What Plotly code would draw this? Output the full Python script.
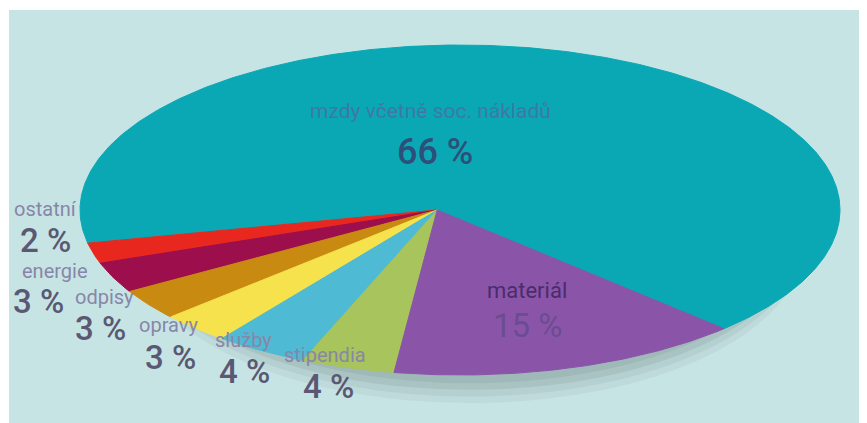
import numpy as np
import plotly.graph_objects as go

# ---- data ----
categories = ["mzdy včetně soc. nákladů", "ostatní", "energie", "odpisy",
              "opravy", "služby", "stipendia", "materiál"]
values = [66, 2, 3, 3, 3, 4, 4, 15]
pct_labels = ["66 %", "2 %", "3 %", "3 %", "3 %", "4 %", "4 %", "15 %"]
colors = ["#0aa8b4", "#e8281e", "#9c0f4c", "#c98a12", "#f6e24c",
          "#4fbad3", "#a8c45c", "#8a55a8"]

# ---- layout constants (screen pixel geometry) ----
SW, SH = 867, 423        # window size
OFF = 8                  # default page body margin
W, H = SW - OFF, SH - OFF
CX, CY, A, B = 460, 210, 380, 165       # ellipse centre / semi-axes (screen px)
APEX = (-0.06, 0.0)                      # wedge apex in unit coords
START_DEG = -46.0                        # where the first slice begins

fig = go.Figure()

total = float(sum(values))
t = START_DEG
for name, v, col in zip(categories, values, colors):
    span = 360.0 * v / total
    ts = np.radians(np.linspace(t, t + span, max(int(span * 2), 4)))
    xs = np.concatenate([[APEX[0]], np.cos(ts), [APEX[0]]])
    ys = np.concatenate([[APEX[1]], np.sin(ts), [APEX[1]]])
    fig.add_trace(go.Scatter(x=xs, y=ys, mode="lines", fill="toself",
                             fillcolor=col, line=dict(color=col, width=1),
                             name=name, hoverinfo="name"))
    t += span

# axis ranges so the unit circle maps to the ellipse (figure px = screen px - OFF)
cx, cy = CX - OFF, CY - OFF
xr = [-cx / A, (W - cx) / A]
yr = [-(H - cy) / B, cy / B]

def px(x):
    return (x - OFF) / W

def py(y):
    return 1 - (y - OFF) / H

shapes = [
    dict(type="rect", xref="paper", yref="paper", x0=px(9), x1=1, y0=0, y1=py(10),
         fillcolor="#c6e4e4", line=dict(width=0), layer="below"),
]
# soft shadow under the pie
for dy, op in [(0.17, 0.07), (0.13, 0.09), (0.09, 0.12), (0.05, 0.12)]:
    shapes.append(dict(type="circle", xref="x", yref="y", x0=-0.85, x1=0.9,
                       y0=-1 - dy, y1=0.9 - dy, fillcolor="#5a6a6a", opacity=op,
                       line=dict(width=0), layer="below"))

FONT = "Roboto, Open Sans, sans-serif"

def ann(text, x, y, size, color, weight=400):
    return dict(text=text, x=px(x), y=py(y), xref="paper", yref="paper",
                showarrow=False, xanchor="center", yanchor="middle",
                font=dict(family=FONT, size=size, color=color, weight=weight))

name_col = "#8886a8"
pct_col = "#5a5872"
annotations = [
    ann(categories[0], 430, 111, 21, "#3f78a6"),
    ann(pct_labels[0], 435, 152, 36, "#2e4f7a", 500),
    ann(categories[7], 527, 290, 22, "#4a2c6c"),
    ann(pct_labels[7], 527, 325, 33, "#6c4c90"),
    ann(categories[1], 45, 209, 20, name_col),
    ann(pct_labels[1], 45, 240, 33, pct_col, 500),
    ann(categories[2], 55, 271, 20, name_col),
    ann(pct_labels[2], 38, 301, 33, pct_col, 500),
    ann(categories[3], 104, 297, 20, name_col),
    ann(pct_labels[3], 100, 328, 33, pct_col, 500),
    ann(categories[4], 168, 325, 20, name_col),
    ann(pct_labels[4], 170, 357, 33, pct_col, 500),
    ann(categories[5], 243, 340, 20, name_col),
    ann(pct_labels[5], 245, 371, 33, pct_col, 500),
    ann(categories[6], 325, 355, 20, name_col),
    ann(pct_labels[6], 328, 386, 33, pct_col, 500),
]

fig.update_layout(
    width=W, height=H, margin=dict(l=0, r=0, t=0, b=0),
    paper_bgcolor="white", plot_bgcolor="rgba(0,0,0,0)",
    showlegend=False,
    xaxis=dict(range=xr, visible=False, fixedrange=True),
    yaxis=dict(range=yr, visible=False, fixedrange=True),
    shapes=shapes, annotations=annotations,
)

fig.write_html("out.html")
